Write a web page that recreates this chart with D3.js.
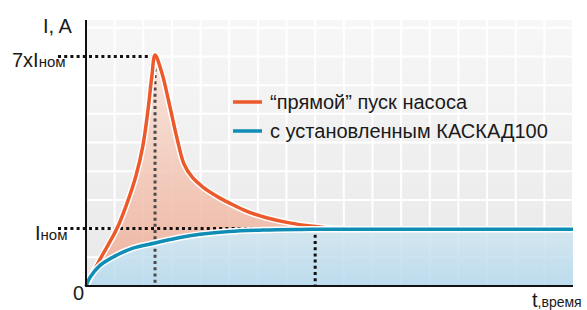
<!DOCTYPE html>
<html><head><meta charset="utf-8">
<script src="https://cdn.jsdelivr.net/npm/d3@7"></script>
<style>
html,body{margin:0;padding:0;background:#fff;}
text{font-family:"Liberation Sans",Arial,sans-serif;fill:#1a1a1a;}
</style></head>
<body><svg id="c" width="587" height="310"></svg>
<script>
// ---- data ----
const directStart = [ // "прямой" пуск: [t, I] in grid units
  [0,0],[0.5,0.95],[1.08,2.0],[1.43,2.88],[1.75,3.86],[1.99,4.91],[2.16,6.10],[2.30,7.32],[2.41,8.05],
  [2.65,7.42],[2.93,6.24],[3.20,5.05],[3.42,4.25],[3.70,3.80],[4.08,3.45],[4.55,3.14],[5.03,2.88],
  [5.62,2.60],[6.30,2.38],[7.10,2.20],[7.92,2.08],[8.70,2.00],[9.5,1.98]
];
const softStart = [ // с установленным КАСКАД100
  [0,0],[0.14,0.30],[0.49,0.72],[1.08,1.08],[1.64,1.32],[2.41,1.50],[3.28,1.69],[3.98,1.80],
  [5.00,1.90],[6.20,1.95],[7.47,1.97],[9.2,1.98],[17,1.98]
];
const seriesNames = ["\u201cпрямой\u201d пуск насоса", "с установленным КАСКАД100"];
const yTickValues = [2, 8];
const yTickMain = ["I", "7xI"];
const yTickSub = ["ном", "ном"];
const peakT = 2.41, peakI = 8, settleT = 8.0, nomI = 2;
const xMax = 17, yMax = 9.27;

// ---- layout ----
const svg = d3.select("#c");
const x = d3.scaleLinear().domain([0, xMax]).range([86, 573]);
const y = d3.scaleLinear().domain([0, yMax]).range([286, 20]);
const red = "#ec5a2b", blue = "#0f8db5";

const defs = svg.append("defs");
const bg = defs.append("linearGradient").attr("id","bg").attr("x1",0).attr("y1",0).attr("x2",0).attr("y2",1);
bg.append("stop").attr("offset",0).attr("stop-color","#f7f7f7");
bg.append("stop").attr("offset",1).attr("stop-color","#e8e8e8");
const rg = defs.append("linearGradient").attr("id","rg").attr("gradientUnits","userSpaceOnUse")
  .attr("x1",0).attr("x2",0).attr("y1",y(peakI)).attr("y2",y(0));
rg.append("stop").attr("offset",0).attr("stop-color","#f8e4db");
rg.append("stop").attr("offset",1).attr("stop-color","#eeab94");
const bgr = defs.append("linearGradient").attr("id","bgr").attr("gradientUnits","userSpaceOnUse")
  .attr("x1",0).attr("x2",0).attr("y1",y(nomI)).attr("y2",y(0));
bgr.append("stop").attr("offset",0).attr("stop-color","#d2e6f0");
bgr.append("stop").attr("offset",1).attr("stop-color","#b6daee");

// background
svg.append("rect").attr("x",x(0)).attr("y",y(yMax)).attr("width",x(xMax)-x(0)).attr("height",y(0)-y(yMax)).attr("fill","url(#bg)");
// grid
const g = svg.append("g").attr("stroke","#fff").attr("stroke-width",2);
d3.range(1, xMax+1).forEach(v => g.append("line").attr("x1",x(v)).attr("x2",x(v)).attr("y1",y(yMax)).attr("y2",y(0)));
d3.range(1, Math.floor(yMax)+1).forEach(v => g.append("line").attr("x1",x(0)).attr("x2",x(xMax)).attr("y1",y(v)).attr("y2",y(v)));

const curve = d3.curveCatmullRom.alpha(0.5);
const line = d3.line().x(d=>x(d[0])).y(d=>y(d[1])).curve(curve);
const area = d3.area().x(d=>x(d[0])).y0(y(0)).y1(d=>y(d[1])).curve(curve);
const aboveArea = d3.area().x(d=>x(d[0])).y0(y(yMax)).y1(d=>y(d[1])).curve(curve);

defs.append("clipPath").attr("id","above").append("path").attr("d", aboveArea(softStart));

// fills
svg.append("path").attr("d", area(directStart)).attr("fill","url(#rg)").attr("opacity",0.88).attr("clip-path","url(#above)");
svg.append("path").attr("d", area(softStart)).attr("fill","url(#bgr)").attr("opacity",0.88);

// guide lines
const dots = svg.append("g").attr("stroke-width",3).attr("stroke-dasharray","3,3.2").attr("fill","none");
dots.append("line").attr("x1",58).attr("x2",x(peakT)).attr("y1",y(peakI)).attr("y2",y(peakI)).attr("stroke","#111");
dots.append("line").attr("x1",58).attr("x2",x(settleT)).attr("y1",y(nomI)).attr("y2",y(nomI)).attr("stroke","#111");
dots.append("line").attr("x1",x(peakT)).attr("x2",x(peakT)).attr("y1",y(peakI)).attr("y2",y(0)).attr("stroke","#4a4a4a");
dots.append("line").attr("x1",x(settleT)).attr("x2",x(settleT)).attr("y1",y(nomI)).attr("y2",y(0)).attr("stroke","#111");

// curves
[[directStart, red],[softStart, blue]].forEach(([d,c]) => {
  svg.append("path").attr("d", line(d)).attr("fill","none").attr("stroke","#fff").attr("stroke-width",6.5).attr("stroke-linejoin","round");
  svg.append("path").attr("d", line(d)).attr("fill","none").attr("stroke",c).attr("stroke-width",3.5).attr("stroke-linejoin","round");
});

// axes
svg.append("line").attr("x1",x(0)).attr("x2",x(0)).attr("y1",y(yMax)).attr("y2",y(0)+1).attr("stroke","#111").attr("stroke-width",2);
svg.append("line").attr("x1",x(0)-1).attr("x2",x(xMax)).attr("y1",y(0)).attr("y2",y(0)).attr("stroke","#111").attr("stroke-width",2);

// labels
svg.append("text").attr("x",43).attr("y",33).attr("font-size",20).text("I, A");
const tickX = [35, 12];
yTickValues.forEach((v,i) => {
  const t = svg.append("text").attr("x",tickX[i]).attr("y",y(v)+11).attr("font-size",20);
  t.append("tspan").text(yTickMain[i]);
  t.append("tspan").attr("font-size",15).text(yTickSub[i]);
});
svg.append("text").attr("x",73).attr("y",300).attr("font-size",20).text("0");
const tl = svg.append("text").attr("x",532).attr("y",307).attr("font-size",20);
tl.append("tspan").text("t");
tl.append("tspan").attr("font-size",14).text(",время");

// legend
const colors = [red, blue];
seriesNames.forEach((n,i) => {
  const yy = 102 + i*29;
  svg.append("line").attr("x1",233).attr("x2",262).attr("y1",yy).attr("y2",yy).attr("stroke",colors[i]).attr("stroke-width",3.5);
  svg.append("text").attr("x",270).attr("y",yy+6.5).attr("font-size",20).text(n);
});
</script></body></html>
